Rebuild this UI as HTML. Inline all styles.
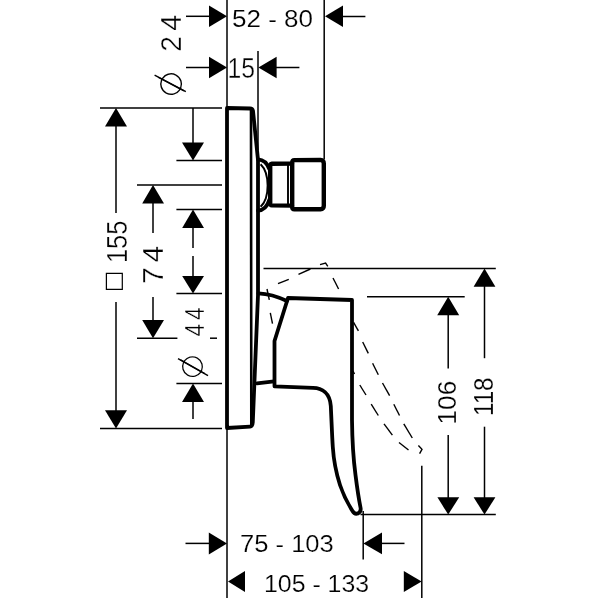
<!DOCTYPE html>
<html>
<head>
<meta charset="utf-8">
<title>Dimension drawing</title>
<style>
html,body{margin:0;padding:0;background:#fff;}
body{width:600px;height:600px;overflow:hidden;}
svg{display:block;}
.t{stroke:#000;stroke-width:1.5;fill:none;}
.k{stroke:#000;stroke-width:3.8;fill:none;stroke-linejoin:round;stroke-linecap:round;}
.k2{stroke:#000;stroke-width:4.4;fill:none;stroke-linejoin:round;stroke-linecap:round;}
.m{stroke:#000;stroke-width:2.6;fill:none;stroke-linecap:round;}
.d{stroke:#000;stroke-width:1.4;fill:none;stroke-linecap:butt;stroke-linejoin:miter;}
.a{fill:#000;stroke:none;}
text{font-family:"Liberation Sans",sans-serif;fill:#000;}
.dj{font-family:"DejaVu Sans",sans-serif;}
.w1{stroke:#fff;stroke-width:0.2;}
.w2{stroke:#fff;stroke-width:0.4;}
.w3{stroke:#fff;stroke-width:1.6;}
</style>
</head>
<body>
<svg width="600" height="600" viewBox="0 0 600 600">
<rect width="600" height="600" fill="#fff"/>

<!-- extension lines (vertical) -->
<g class="t">
<line x1="227" y1="0" x2="227" y2="107"/>
<line x1="227" y1="428" x2="227" y2="598"/>
<line x1="258" y1="51" x2="258" y2="150"/>
<line x1="324.2" y1="0" x2="324.2" y2="159"/>
<line x1="363.2" y1="511" x2="363.2" y2="559.5"/>
<line x1="421.8" y1="465.8" x2="421.8" y2="598"/>
</g>

<!-- horizontal extension lines -->
<g class="t">
<line x1="100" y1="108" x2="222" y2="108"/>
<line x1="176.4" y1="160.4" x2="222" y2="160.4"/>
<line x1="137" y1="185" x2="222" y2="185"/>
<line x1="176.4" y1="209.6" x2="222" y2="209.6"/>
<line x1="176.4" y1="293.6" x2="222" y2="293.6"/>
<line x1="137" y1="338.2" x2="177.4" y2="338.2"/>
<line x1="210" y1="338.2" x2="217" y2="338.2"/>
<line x1="176.4" y1="383.6" x2="222" y2="383.6"/>
<line x1="100" y1="428.4" x2="222" y2="428.4"/>
<line x1="263.5" y1="268.4" x2="495.8" y2="268.4"/>
<line x1="367" y1="296.8" x2="464.7" y2="296.8"/>
<line x1="360.5" y1="514.6" x2="495.8" y2="514.6"/>
</g>

<!-- dimension lines (tails) -->
<g class="t">
<!-- 52-80 -->
<line x1="186" y1="16.3" x2="210" y2="16.3"/>
<line x1="342" y1="16.5" x2="365.4" y2="16.5"/>
<!-- 15 -->
<line x1="186" y1="67.5" x2="210" y2="67.5"/>
<line x1="276" y1="67.5" x2="299.4" y2="67.5"/>
<!-- 155 -->
<line x1="116" y1="125" x2="116" y2="213"/>
<line x1="116" y1="302" x2="116" y2="411"/>
<!-- 74 -->
<line x1="153" y1="202" x2="153" y2="233"/>
<line x1="153" y1="297" x2="153" y2="321"/>
<!-- dia 24 -->
<line x1="193" y1="108" x2="193" y2="144"/>
<!-- 44 span -->
<line x1="193" y1="227" x2="193" y2="248"/>
<line x1="193" y1="256" x2="193" y2="277"/>
<!-- dia 44 bottom -->
<line x1="193" y1="401" x2="193" y2="419"/>
<!-- 106 -->
<line x1="448.2" y1="314" x2="448.2" y2="368.4"/>
<line x1="448.2" y1="435" x2="448.2" y2="498"/>
<!-- 118 -->
<line x1="484.5" y1="286" x2="484.5" y2="358.2"/>
<line x1="484.5" y1="426.7" x2="484.5" y2="498"/>
<!-- 75-103 -->
<line x1="185.5" y1="543.4" x2="210" y2="543.4"/>
<line x1="381" y1="543.4" x2="404.5" y2="543.4"/>
</g>

<!-- arrowheads -->
<g class="a">
<!-- 52-80 -->
<polygon points="227,16.3 209,5.6 209,27"/>
<polygon points="325,16.3 343,5.6 343,27"/>
<!-- 15 -->
<polygon points="227,67.5 209,56.8 209,78.2"/>
<polygon points="258.4,67.5 276.6,56.8 276.6,78.2"/>
<!-- 155 -->
<polygon points="116,108 105,126.6 127,126.6"/>
<polygon points="116,428.4 105,410.2 127,410.2"/>
<!-- 74 -->
<polygon points="153,185 142.2,203.4 164,203.4"/>
<polygon points="153,338.2 142.2,320 164,320"/>
<!-- dia 24 down -->
<polygon points="193,160.4 182,142.6 204,142.6"/>
<!-- 44 span -->
<polygon points="193,209.6 182.2,228 204,228"/>
<polygon points="193,293.6 182.2,276 204,276"/>
<!-- dia 44 up -->
<polygon points="193,383.6 182,402 204,402"/>
<!-- 106 -->
<polygon points="448.2,296.8 437.2,315.2 459.2,315.2"/>
<polygon points="448.2,514.6 437.4,497.2 459.2,497.2"/>
<!-- 118 -->
<polygon points="484.5,268.4 473.6,286.8 495.4,286.8"/>
<polygon points="484.5,514.6 473.6,497.2 495.4,497.2"/>
<!-- 75-103 -->
<polygon points="227,543.4 208.8,532.5 208.8,554.4"/>
<polygon points="363.4,543.4 382,532.5 382,554.2"/>
<!-- 105-133 -->
<polygon points="228,581.6 245,571 245,592"/>
<polygon points="421.6,581.6 403.8,571 403.8,592"/>
</g>

<!-- plate -->
<path class="k" d="M227,428 L227,108 L250,108.5 Q252.5,108.6 253,111 L258,160 L258,295 L252.8,422 Q252.5,426.4 250,426.6 L227,428"/>
<path class="m" d="M251,110 L251.3,425"/>

<!-- knob -->
<path class="k" d="M258,159.3 C263,159.6 267,162.5 269.2,169"/>
<path class="k" d="M258,210.6 C263,210.3 267,207.5 269.2,200"/>
<path class="t" style="stroke-width:1.9" d="M260.6,164.2 C264,167.5 267.6,175 267.6,185.4 C267.6,196 264,203.5 260.6,206.7"/>
<path class="k2" d="M292,163.6 L272,163.8 Q270.2,164 270.2,166 L270.2,203.2 Q270.2,205.2 272,205.4 L292,205.6"/>
<line class="t" x1="288" y1="164" x2="288" y2="205.5" style="stroke-width:1.9"/>
<path class="k2" d="M292.2,162.5 Q292.2,160.2 294.5,160.1 L320.5,159.9 Q323.8,160.1 323.8,163.5 L323.8,205.8 Q323.8,209.1 320.5,209.2 L294.5,209.3 Q292.2,209.2 292.2,207 Z"/>

<!-- handle -->
<path class="k" d="M258.4,293.3 Q272,293.8 287,301"/>
<path class="k" d="M257,383.3 L274,381.3"/>
<path class="k" d="M274.5,386.3 L274.5,341 L288,298 L352,300 L352,420 C352.2,440 353.5,460 355.5,475 C357,487 359,500 360.6,508 Q361.2,512 358,513.4 Q354.5,514.6 352.5,511 C347.5,503 343,494 340,485 C335.5,471 333.5,458 332.8,447 C332,435 331.5,420 330.8,406 C330,393 322,388 313,387.8 Z"/>

<!-- dashed (lifted handle) -->
<g class="d">
<path d="M267,289 L269.3,299.8"/>
<path d="M270.3,312.8 L272.5,323.7"/>
<path d="M278,283.6 L288.8,279.3"/>
<path d="M298.5,274.3 L310.4,269"/>
<path d="M320,264.7 L325.6,263 L327.8,266.3"/>
<path d="M333,278 L338.6,289"/>
<path d="M353.6,322.3 L358.4,330.8"/>
<path d="M362.7,342 L368.3,353.4"/>
<path d="M372.6,363.3 L378.3,374.7"/>
<path d="M382.5,383 L389.6,395.7"/>
<path d="M393.8,404.2 L399.5,415.5"/>
<path d="M403.8,423.8 L412.3,438"/>
<path d="M418.4,445.6 L422,449.3 L419.6,453.6"/>
<path d="M353,371 L354.5,374"/>
<path d="M359.8,385 L366,395"/>
<path d="M371.2,404.2 L378.3,415.5"/>
<path d="M384,423.8 L392.4,435.2"/>
<path d="M399,442.5 L408.5,450"/>
</g>

<!-- horizontal texts -->
<g class="tx" opacity="0.999">
<text id="t5280" transform="translate(231.96,27.06) scale(1.067,1)" font-size="24.4" class="w1">52 - 80</text>
<text id="t15" transform="translate(227.5,78) scale(0.833,1)" font-size="29.7" class="w2">15</text>
<text id="t75103" transform="translate(240,551.75) scale(1.037,1)" font-size="24.65" class="w1">75 - 103</text>
<text id="t105133" transform="translate(264,591.75) scale(1.009,1)" font-size="24.65" class="w1">105 - 133</text>

<!-- vertical texts -->
<text id="t24" transform="translate(181.4,51.8) rotate(-90) scale(0.953,1)" font-size="29.7" letter-spacing="5.47" class="w2">24</text>
<text id="t155" transform="translate(126.7,263.03) rotate(-90) scale(0.864,1)" font-size="29.43" class="w2">155</text>
<text id="t74" transform="translate(163.3,283.9) rotate(-90) scale(1.02,1)" font-size="29.41" letter-spacing="4.53" class="w2">74</text>
<text id="t44" transform="translate(204.27,336.46) rotate(-90) scale(0.8407,1)" font-size="27.06" letter-spacing="4.46" class="w2">44</text>
<text id="t106" transform="translate(455.94,424.5) rotate(-90) scale(1.012,1)" font-size="25.92" class="w1">106</text>
<text id="t118" transform="translate(492.73,415.93) rotate(-90) scale(0.8885,1)" font-size="27.18" class="w1">118</text>
<text id="tsq" transform="translate(119.9,292.04) rotate(-90) scale(1.024,1)" font-size="22.13" class="dj">□</text>
<text id="td24" transform="translate(171,84.4) rotate(-107) translate(-13.28,11.48)" font-size="45" class="dj w3">⌀</text>
<text id="td44" transform="translate(192.4,367) rotate(-105.5) translate(-12.69,10.97)" font-size="43" class="dj w3">⌀</text>
</g>
<g class="d">
<line x1="154.6" y1="75.2" x2="185.8" y2="91.7"/>
<line x1="178" y1="358.6" x2="208" y2="375.6"/>
</g>
</svg>
</body>
</html>
